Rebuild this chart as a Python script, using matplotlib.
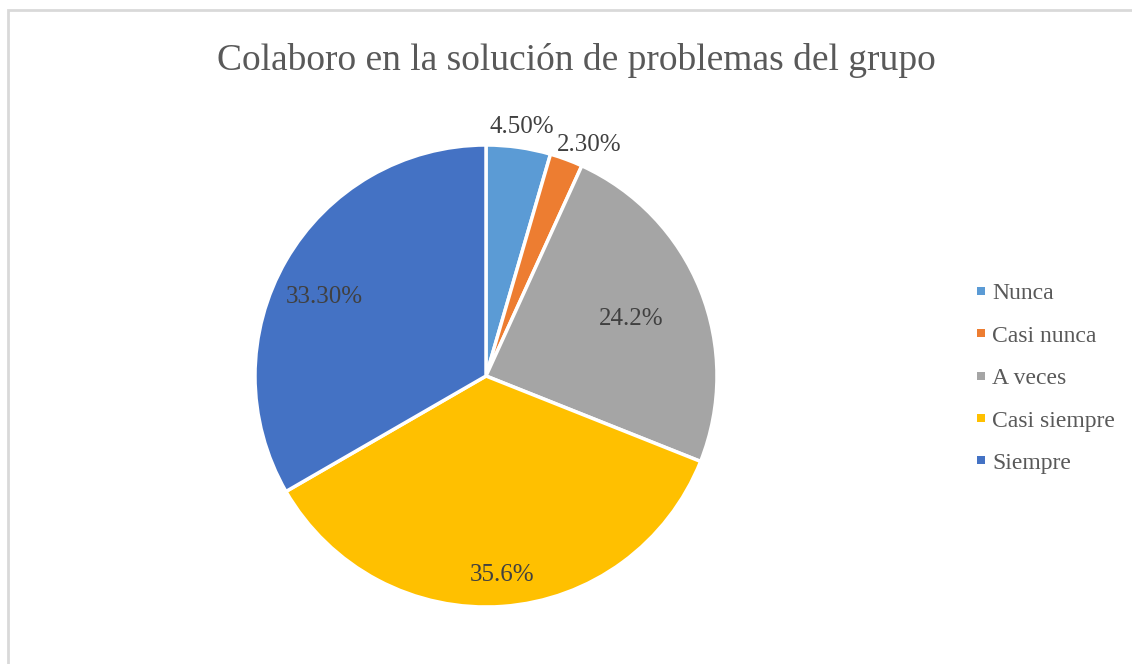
import matplotlib
matplotlib.use("Agg")
import matplotlib.pyplot as plt
import numpy as np
from matplotlib.patches import Rectangle

categories = ["Nunca", "Casi nunca", "A veces", "Casi siempre", "Siempre"]
values = [4.5, 2.3, 24.2, 35.6, 33.3]
value_labels = ["4.50%", "2.30%", "24.2%", "35.6%", "33.30%"]
colors = ["#5B9BD5", "#ED7D31", "#A5A5A5", "#FFC000", "#4472C4"]
label_dist = [1.106, 1.111, 0.681, 0.851, 0.786]
label_angle_shift = [0.0, -3.4, 0.8, 0.4, 2.9]
title = "Colaboro en la solución de problemas del grupo"

plt.rcParams['font.family'] = ['Liberation Serif', 'DejaVu Serif']
W, H = 1132, 664
fig = plt.figure(figsize=(W/100, H/100), dpi=100)
fig.patch.set_facecolor("white")

# chart area border (left and top visible)
fig.add_artist(Rectangle((8/W, -0.1), 1.2, (H-10)/H + 0.1, transform=fig.transFigure,
                         fill=False, edgecolor="#D9D9D9", linewidth=2))

cx, cy, r = 486, 376, 231
ax = fig.add_axes([(cx - r)/W, (H - cy - r)/H, 2*r/W, 2*r/H])
wedges, _ = ax.pie(values, colors=colors, startangle=90, counterclock=False,
                   wedgeprops=dict(edgecolor="white", linewidth=2.5), radius=1.0)
ax.set_xlim(-1, 1); ax.set_ylim(-1, 1)
ax.set_aspect("equal")
ax.axis("off")

total = sum(values)
start = 90.0
ydrop = 3.5 / r
for v, lab, d, sh in zip(values, value_labels, label_dist, label_angle_shift):
    span = 360.0 * v / total
    mid = np.deg2rad(start - span/2 + sh)
    start -= span
    ax.text(d*np.cos(mid), d*np.sin(mid) - ydrop, lab, ha="center", va="center",
            fontsize=18, color="#404040")

fig.text(576/W, 1 - 61/H, title, ha="center", va="center", fontsize=27, color="#595959")

ys = [291, 333, 376, 418, 460]
for c, name, y in zip(colors, categories, ys):
    fig.add_artist(Rectangle((977/W, 1 - (y+4)/H), 8/W, 8/H, transform=fig.transFigure,
                             facecolor=c, edgecolor="none"))
    fig.text(992/W, 1 - (y+3)/H, name, ha="left", va="center", fontsize=17, color="#595959")

fig.savefig("out.png", dpi=100, facecolor="white")
